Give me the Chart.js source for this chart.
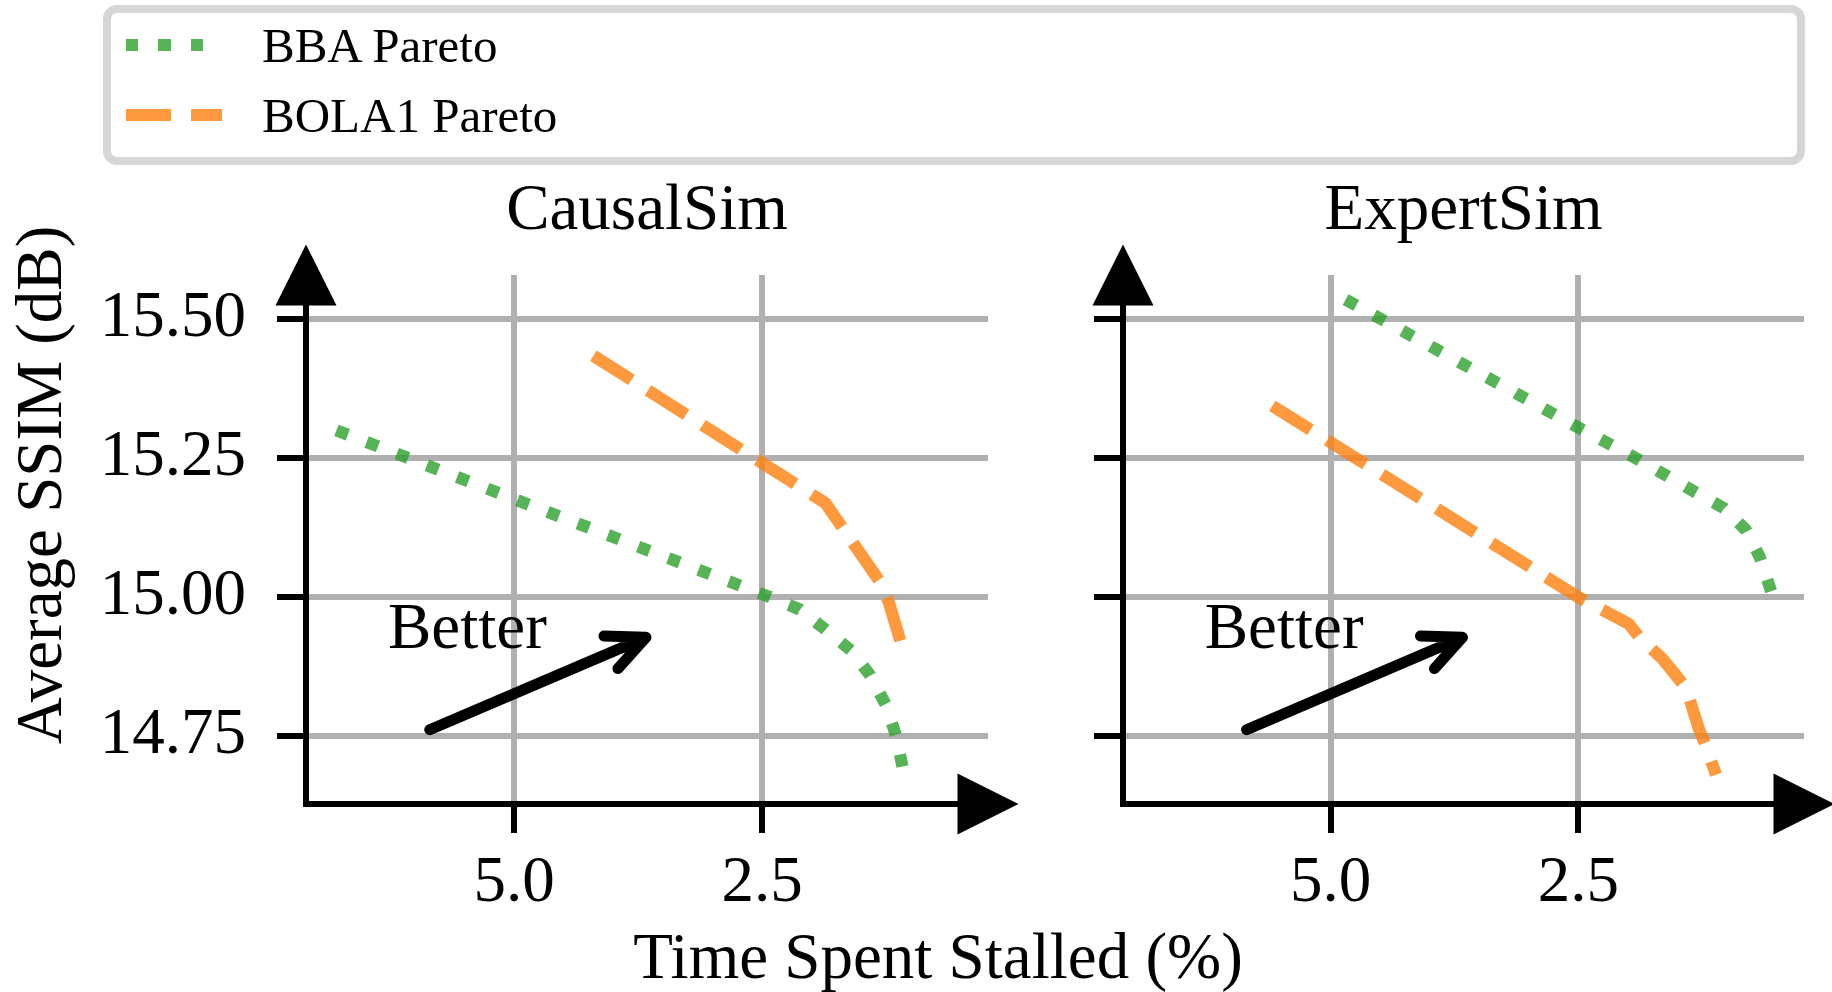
<!DOCTYPE html>
<html>
<head>
<meta charset="utf-8">
<script src="https://cdn.jsdelivr.net/npm/chart.js@4.4.1/dist/chart.umd.min.js"></script>
<style>
  html, body { margin: 0; padding: 0; background: #fff; }
  body { width: 1832px; height: 992px; position: relative; overflow: hidden;
         font-family: 'Liberation Serif', 'Times New Roman', serif; }
  canvas { position: absolute; left: 0; top: 0; }
  #legendBox { position: absolute; left: 103px; top: 5px; width: 1686px; height: 144px;
               border: 8px solid #d6d6d6; border-radius: 14px; box-sizing: content-box; }
  .swatch { position: absolute; left: 126px; width: 96px; height: 12px; }
  .ltext { position: absolute; left: 262px; font-size: 49px; line-height: 49px; color: #000; white-space: nowrap; }
</style>
</head>
<body>
<canvas id="causal" width="1832" height="992"></canvas>
<canvas id="expert" width="1832" height="992"></canvas>

<div id="legendBox"></div>
<div class="swatch" id="swBba" style="top:39px"></div>
<div class="ltext" style="top:21px">BBA Pareto</div>
<div class="swatch" id="swBola" style="top:109px"></div>
<div class="ltext" style="top:91px">BOLA1 Pareto</div>

<script>
// ---- data: time spent stalled (%) vs. average SSIM (dB) along each Pareto front ----
const causalBbaStall  = [6.79, 4.89, 2.43, 2.12, 1.86, 1.60, 1.41, 1.25, 1.15, 1.07];
const causalBbaSsim   = [15.300, 15.169, 15.001, 14.978, 14.942, 14.904, 14.860, 14.806, 14.752, 14.684];
const causalBolaStall = [4.20, 1.86, 1.30, 1.22, 1.09];
const causalBolaSsim  = [15.434, 15.169, 15.025, 14.990, 14.912];

const expertBbaStall  = [4.85, 3.92, 2.48, 1.90, 1.32, 1.03, 0.81, 0.67, 0.54];
const expertBbaSsim   = [15.535, 15.444, 15.303, 15.248, 15.189, 15.160, 15.121, 15.073, 15.003];
const expertBolaStall = [5.59, 2.50, 2.21, 1.99, 1.87, 1.66, 1.53, 1.41, 1.29, 1.20, 1.11];
const expertBolaSsim  = [15.344, 15.000, 14.973, 14.952, 14.925, 14.891, 14.863, 14.836, 14.767, 14.726, 14.681];

const stallTicks = [5.0, 2.5];
const ssimTicks  = [14.75, 15.00, 15.25, 15.50];
const seriesNames = ['BBA Pareto', 'BOLA1 Pareto'];
const panelTitles = ['CausalSim', 'ExpertSim'];
const xAxisTitle = 'Time Spent Stalled (%)';
const yAxisTitle = 'Average SSIM (dB)';
const betterLabel = 'Better';
// "Better" annotation anchor points, in data units (stall %, SSIM dB)
const betterTextAt = [5.47, 14.909];
const betterFrom   = [5.85, 14.762];
const betterTo     = [3.67, 14.928];

// ---- styling ----
const SERIF = "'Liberation Serif', 'Times New Roman', serif";
const FONT_PX = 65;
const GREEN  = 'rgba(44,160,44,0.8)';
const ORANGE = 'rgba(255,127,14,0.8)';
const LW = 12.2;
const DOTS = [LW * 1.0, LW * 1.65];
const DASHES = [LW * 3.7, LW * 1.6];
const X_RANGE = [0.222, 7.097];
const Y_RANGE = [14.6285, 15.5791];

document.getElementById('swBba').style.background =
  `repeating-linear-gradient(90deg, ${GREEN} 0 ${DOTS[0]}px, transparent ${DOTS[0]}px ${DOTS[0] + DOTS[1]}px)`;
document.getElementById('swBola').style.background =
  `repeating-linear-gradient(90deg, ${ORANGE} 0 ${DASHES[0]}px, transparent ${DASHES[0]}px ${DASHES[0] + DASHES[1]}px)`;

Chart.defaults.font.family = SERIF;
Chart.defaults.color = '#000';

const zip = (xs, ys) => xs.map((v, i) => ({ x: v, y: ys[i] }));

function drawArrowLine(ctx, x0, y0, x1, y1) {
  const ang = Math.atan2(y1 - y0, x1 - x0);
  const len = 42, spread = 25 * Math.PI / 180;
  ctx.beginPath();
  ctx.moveTo(x0, y0);
  ctx.lineTo(x1, y1);
  ctx.moveTo(x1 - len * Math.cos(ang - spread), y1 - len * Math.sin(ang - spread));
  ctx.lineTo(x1, y1);
  ctx.lineTo(x1 - len * Math.cos(ang + spread), y1 - len * Math.sin(ang + spread));
  ctx.stroke();
}

// Spine arrowheads, panel title, the "Better" hint, and the shared axis titles
const decorations = {
  id: 'decorations',
  afterDraw(chart, args, opts) {
    const { ctx, chartArea: a } = chart;
    const xs = chart.scales.x, ys = chart.scales.y;
    ctx.save();
    ctx.fillStyle = '#000';
    const h = 30.5;
    ctx.beginPath();
    ctx.moveTo(a.left, a.top - h);
    ctx.lineTo(a.left - h, a.top + h);
    ctx.lineTo(a.left + h, a.top + h);
    ctx.closePath();
    ctx.fill();
    ctx.beginPath();
    ctx.moveTo(a.right + h, a.bottom);
    ctx.lineTo(a.right - h, a.bottom - h);
    ctx.lineTo(a.right - h, a.bottom + h);
    ctx.closePath();
    ctx.fill();

    ctx.font = `${FONT_PX}px ${SERIF}`;
    ctx.textAlign = 'center';
    ctx.textBaseline = 'alphabetic';
    ctx.fillText(opts.title, (a.left + a.right) / 2, 229);

    ctx.fillText(betterLabel, xs.getPixelForValue(betterTextAt[0]), ys.getPixelForValue(betterTextAt[1]));
    ctx.strokeStyle = '#000';
    ctx.lineWidth = 11;
    ctx.lineCap = 'round';
    ctx.lineJoin = 'round';
    drawArrowLine(ctx,
      xs.getPixelForValue(betterFrom[0]), ys.getPixelForValue(betterFrom[1]),
      xs.getPixelForValue(betterTo[0]), ys.getPixelForValue(betterTo[1]));

    if (opts.axisTitles) {
      ctx.fillText(xAxisTitle, 938, 978);
      ctx.translate(61, 485);
      ctx.rotate(-Math.PI / 2);
      ctx.fillText(yAxisTitle, 0, 0);
    }
    ctx.restore();
  }
};

function makePanel(id, title, bbaStall, bbaSsim, bolaStall, bolaSsim, pad, showYLabels, axisTitles) {
  return new Chart(document.getElementById(id), {
    type: 'scatter',
    data: {
      datasets: [
        { label: seriesNames[0], data: zip(bbaStall, bbaSsim), showLine: true,
          borderColor: GREEN, backgroundColor: GREEN, borderWidth: LW, borderDash: DOTS,
          borderCapStyle: 'butt', borderJoinStyle: 'round', pointRadius: 0, tension: 0, fill: false },
        { label: seriesNames[1], data: zip(bolaStall, bolaSsim), showLine: true,
          borderColor: ORANGE, backgroundColor: ORANGE, borderWidth: LW, borderDash: DASHES,
          borderCapStyle: 'butt', borderJoinStyle: 'round', pointRadius: 0, tension: 0, fill: false }
      ]
    },
    options: {
      responsive: false,
      animation: false,
      events: [],
      layout: { padding: pad },
      plugins: {
        legend: { display: false },
        tooltip: { enabled: false },
        decorations: { title, axisTitles }
      },
      scales: {
        x: {
          type: 'linear', reverse: true, min: X_RANGE[0], max: X_RANGE[1],
          afterBuildTicks: s => { s.ticks = stallTicks.map(v => ({ value: v })); },
          afterFit: s => { s.height = 188; },
          grid: { color: '#b0b0b0', lineWidth: 6, drawTicks: true, tickLength: 29, tickColor: '#000', tickWidth: 6 },
          border: { display: true, color: '#000', width: 6 },
          ticks: { color: '#000', font: { size: FONT_PX, lineHeight: 1.2 }, padding: 12,
                   maxRotation: 0, autoSkip: false, callback: v => Number(v).toFixed(1) }
        },
        y: {
          type: 'linear', min: Y_RANGE[0], max: Y_RANGE[1],
          afterBuildTicks: s => { s.ticks = ssimTicks.map(v => ({ value: v })); },
          afterFit: s => { s.width = 300; },
          grid: { color: '#b0b0b0', lineWidth: 6, drawTicks: true, tickLength: 29, tickColor: '#000', tickWidth: 6 },
          border: { display: true, color: '#000', width: 6 },
          ticks: { display: showYLabels, color: '#000', font: { size: FONT_PX, lineHeight: 1.2 }, padding: 31,
                   autoSkip: false, callback: v => Number(v).toFixed(2) }
        }
      }
    },
    plugins: [decorations]
  });
}

makePanel('causal', panelTitles[0], causalBbaStall, causalBbaSsim, causalBolaStall, causalBolaSsim,
          { left: 6, right: 844, top: 275, bottom: 0 }, true, true);
makePanel('expert', panelTitles[1], expertBbaStall, expertBbaSsim, expertBolaStall, expertBolaSsim,
          { left: 823, right: 28, top: 275, bottom: 0 }, false, false);
</script>
</body>
</html>
